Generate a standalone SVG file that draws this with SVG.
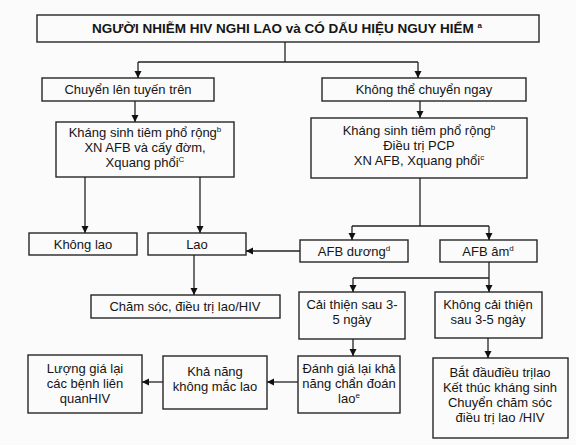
<svg xmlns="http://www.w3.org/2000/svg" width="576" height="445" viewBox="0 0 576 445">
<style>
.box{fill:none;stroke:#262626;stroke-width:1.4}
text{font-family:"Liberation Sans",Arial,sans-serif;font-size:13px;fill:#151515;text-anchor:middle}
.title{font-weight:bold;font-size:13.5px}
.sup{font-size:8px}
.con line{stroke:#222;stroke-width:1.3;fill:none}
.arr{marker-end:url(#ah)}
</style>
<defs>
<marker id="ah" markerUnits="userSpaceOnUse" markerWidth="8" markerHeight="8" refX="7" refY="4" orient="auto">
<path d="M0,0.5 L7,4 L0,7.5 z" fill="#111"/>
</marker>
</defs>
<rect width="576" height="445" fill="#fbfbfb"/>
<g id="n-top"><rect class="box" x="37" y="15" width="502" height="27"/><text class="title" x="287" y="33">NGƯỜI NHIỄM HIV NGHI LAO và CÓ DẤU HIỆU NGUY HIỂM <tspan class="sup" dy="-5">a</tspan></text></g>
<g id="n-chuyen"><rect class="box" x="42" y="78" width="172" height="23"/><text x="128" y="94">Chuyển lên tuyến trên</text></g>
<g id="n-khongthe"><rect class="box" x="322" y="78" width="204" height="23"/><text x="424" y="94">Không thể chuyển ngay</text></g>
<g id="n-ks-left"><rect class="box" x="56" y="122" width="178" height="55"/><text x="145" y="137">Kháng sinh tiêm phổ rộng<tspan class="sup" dy="-5">b</tspan></text><text x="145" y="152">XN AFB và cấy đờm,</text><text x="145" y="167">Xquang phổi<tspan class="sup" dy="-5">C</tspan></text></g>
<g id="n-ks-right"><rect class="box" x="311" y="118" width="216" height="60"/><text x="419" y="135">Kháng sinh tiêm phổ rộng<tspan class="sup" dy="-5">b</tspan></text><text x="419" y="150">Điều trị PCP</text><text x="419" y="165">XN AFB, Xquang phổi<tspan class="sup" dy="-5">c</tspan></text></g>
<g id="n-khonglao"><rect class="box" x="29" y="233" width="108" height="22"/><text x="83" y="249">Không lao</text></g>
<g id="n-lao"><rect class="box" x="148" y="233" width="98" height="22"/><text x="197" y="249">Lao</text></g>
<g id="n-afbduong"><rect class="box" x="300" y="240" width="108" height="22"/><text x="354" y="256">AFB dương<tspan class="sup" dy="-5">d</tspan></text></g>
<g id="n-afbam"><rect class="box" x="440" y="240" width="97" height="22"/><text x="488" y="256">AFB âm<tspan class="sup" dy="-5">d</tspan></text></g>
<g id="n-chamsoc"><rect class="box" x="91" y="295" width="189" height="23"/><text x="185" y="311">Chăm sóc, điều trị lao/HIV</text></g>
<g id="n-caithien"><rect class="box" x="299" y="292" width="106" height="47"/><text x="352" y="309">Cải thiện sau 3-</text><text x="352" y="324">5 ngày</text></g>
<g id="n-khongcaithien"><rect class="box" x="435" y="292" width="107" height="46"/><text x="488" y="309">Không cải thiện</text><text x="488" y="324">sau 3-5 ngày</text></g>
<g id="n-danhgia"><rect class="box" x="298" y="356" width="102" height="57"/><text x="349" y="373">Đánh giá lại khả</text><text x="349" y="388">năng chẩn đoán</text><text x="349" y="403">lao<tspan class="sup" dy="-5">e</tspan></text></g>
<g id="n-batdau"><rect class="box" x="433" y="358" width="135" height="80"/><text x="500" y="377">Bắt đầuđiều trịlao</text><text x="500" y="392">Kết thúc kháng sinh</text><text x="500" y="407">Chuyển chăm sóc</text><text x="500" y="422">điều trị lao /HIV</text></g>
<g id="n-khanang"><rect class="box" x="163" y="356" width="104" height="53"/><text x="215" y="376">Khả năng</text><text x="215" y="391">không mắc lao</text></g>
<g id="n-luonggia"><rect class="box" x="28" y="355" width="114" height="58"/><text x="85" y="373">Lượng giá lại</text><text x="85" y="388">các bệnh liên</text><text x="85" y="403">quanHIV</text></g>
<g id="connectors" class="con">
<line x1="285" y1="42" x2="285" y2="62"/>
<line x1="138" y1="62" x2="418" y2="62"/>
<line class="arr" x1="138" y1="62" x2="138" y2="78"/>
<line class="arr" x1="418" y1="62" x2="418" y2="78"/>
<line class="arr" x1="135" y1="101" x2="135" y2="122"/>
<line class="arr" x1="420" y1="101" x2="420" y2="118"/>
<line class="arr" x1="85" y1="177" x2="85" y2="233"/>
<line class="arr" x1="200" y1="177" x2="200" y2="233"/>
<line x1="420" y1="178" x2="420" y2="226"/>
<line x1="352" y1="226" x2="489" y2="226"/>
<line class="arr" x1="352" y1="226" x2="352" y2="240"/>
<line class="arr" x1="489" y1="226" x2="489" y2="240"/>
<line class="arr" x1="300" y1="251" x2="246" y2="251"/>
<line class="arr" x1="194" y1="255" x2="194" y2="295"/>
<line x1="489" y1="262" x2="489" y2="278"/>
<line x1="353" y1="278" x2="489" y2="278"/>
<line class="arr" x1="353" y1="278" x2="353" y2="292"/>
<line class="arr" x1="489" y1="278" x2="489" y2="292"/>
<line class="arr" x1="353" y1="339" x2="353" y2="356"/>
<line class="arr" x1="488" y1="338" x2="488" y2="358"/>
<line class="arr" x1="298" y1="382" x2="267" y2="382"/>
<line class="arr" x1="163" y1="382" x2="142" y2="382"/>
</g>
</svg>
